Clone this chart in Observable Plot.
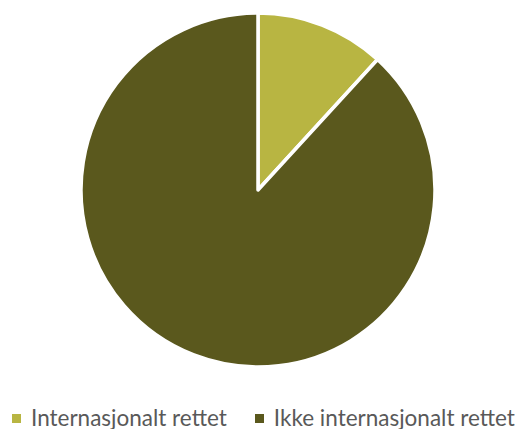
<!DOCTYPE html>
<html>
<head>
<meta charset="utf-8">
<script src="https://cdn.jsdelivr.net/npm/d3@7"></script>
<script src="https://cdn.jsdelivr.net/npm/@observablehq/plot@0.6"></script>
<style>
  html, body { margin: 0; padding: 0; background: #fff; }
  #chart { width: 515px; }
  .legend { display: flex; align-items: center; font-family: Lato, "Open Sans", sans-serif; font-size: 22.5px; line-height: 22px; color: #595959; margin-top: 17px; padding-left: 12px; white-space: nowrap; }
  .legend .item { display: flex; align-items: center; margin-right: 28px; }
  .legend .sw { width: 9px; height: 9px; margin-right: 10px; display: inline-block; }
</style>
</head>
<body>
<div id="chart"></div>
<script>
const categories = ["Internasjonalt rettet", "Ikke internasjonalt rettet"];
const values = [11.8, 88.2];
const colors = ["#b8b542", "#5a581d"];

const data = categories.map((c, i) => ({category: c, value: values[i]}));
const arcs = d3.pie().sort(null).value(d => d.value)(data);

const pieMark = (index, scales, vals, dimensions, context) => {
  const cx = scales.x(0), cy = scales.y(0);
  const r = scales.x(1) - scales.x(0);
  const arcGen = d3.arc().innerRadius(0).outerRadius(r);
  const g = d3.create("svg:g").attr("transform", `translate(${cx},${cy})`);
  g.selectAll("path").data(arcs).join("path")
    .attr("d", arcGen)
    .attr("fill", d => scales.color(d.data.category))
    .attr("stroke", "#fff")
    .attr("stroke-width", 3.5)
    .attr("stroke-linejoin", "round");
  return g.node();
};

const plot = Plot.plot({
  width: 515,
  height: 390,
  marginLeft: 81,
  marginRight: 80,
  marginTop: 13,
  marginBottom: 23,
  x: {domain: [-1, 1], axis: null},
  y: {domain: [1, -1], axis: null},
  color: {domain: categories, range: colors},
  marks: [pieMark]
});
document.getElementById("chart").appendChild(plot);

const legend = d3.select("#chart").append("div").attr("class", "legend");
categories.forEach((c, i) => {
  const it = legend.append("div").attr("class", "item");
  it.append("span").attr("class", "sw").style("background", colors[i]);
  it.append("span").text(c);
});
</script>
</body>
</html>
